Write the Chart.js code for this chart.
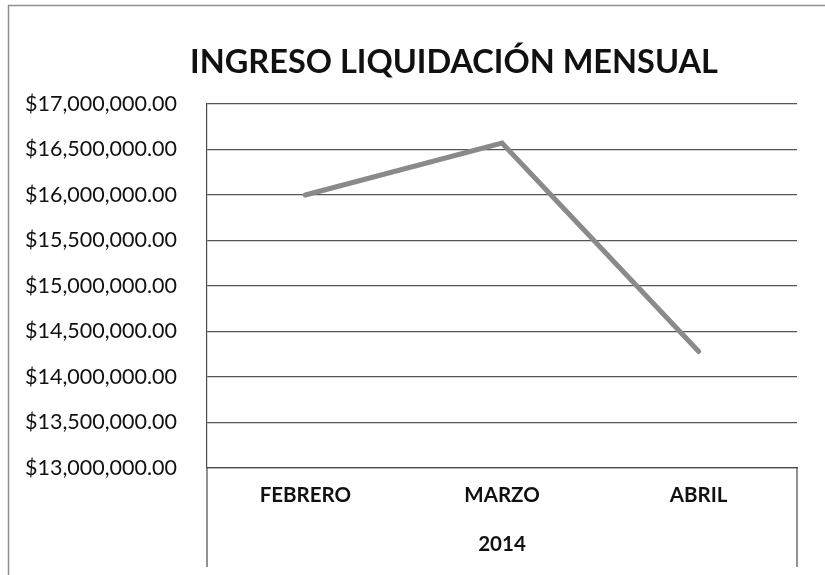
<!DOCTYPE html>
<html>
<head>
<meta charset="utf-8">
<script src="https://cdn.jsdelivr.net/npm/chart.js@4/dist/chart.umd.min.js"></script>
<style>
  html, body { margin: 0; padding: 0; background: #fff; overflow: hidden; }
  #wrap { width: 825px; height: 575px; overflow: hidden; position: relative; }
  #wrap canvas { position: absolute; left: 0; top: 0; }
</style>
</head>
<body>
<div id="wrap"><canvas id="c" width="900" height="575"></canvas></div>
<script>
const categories = ['FEBRERO', 'MARZO', 'ABRIL'];
const ingresos = [16000000, 16570000, 14280000];
const chartTitle = 'INGRESO LIQUIDACIÓN MENSUAL';
const xTitle = '2014';
const yMin = 13000000, yMax = 17000000, yStep = 500000;

const FONT = 'Lato, "Open Sans", "Liberation Sans", sans-serif';

const fmt = v => '$' + Number(v).toLocaleString('en-US', {minimumFractionDigits: 2, maximumFractionDigits: 2});

const decor = {
  id: 'decor',
  beforeDraw(chart) {
    const {ctx} = chart;
    ctx.save();
    ctx.fillStyle = '#fff';
    ctx.fillRect(0, 0, chart.width, chart.height);
    ctx.strokeStyle = '#8f8f8f';
    ctx.lineWidth = 1.5;
    ctx.beginPath();
    ctx.moveTo(8.5, chart.height);
    ctx.lineTo(8.5, 5.5);
    ctx.lineTo(chart.width, 5.5);
    ctx.stroke();
    ctx.restore();
  },
  afterDraw(chart) {
    const {ctx, chartArea} = chart;
    ctx.save();
    ctx.strokeStyle = '#4a4a4a';
    ctx.lineWidth = 1.2;
    ctx.beginPath();
    ctx.moveTo(chartArea.left, chartArea.bottom);
    ctx.lineTo(chartArea.left, chart.height - 8);
    ctx.moveTo(chartArea.right, chartArea.bottom);
    ctx.lineTo(chartArea.right, chart.height - 8);
    ctx.stroke();
    ctx.restore();
  }
};

new Chart(document.getElementById('c'), {
  type: 'line',
  data: {
    labels: categories,
    datasets: [{
      data: ingresos,
      borderColor: '#8a8a8a',
      borderWidth: 5,
      pointRadius: 0,
      borderCapStyle: 'round',
      borderJoinStyle: 'miter',
      tension: 0,
      fill: false
    }]
  },
  options: {
    responsive: false,
    animation: false,
    devicePixelRatio: 1,
    layout: { padding: { left: 8, right: 0, top: 0, bottom: 0 } },
    plugins: {
      legend: { display: false },
      tooltip: { enabled: false },
      title: {
        display: true,
        text: chartTitle,
        color: '#111',
        font: { family: FONT, size: 32.5, weight: 'bold' },
        padding: { top: 43, bottom: 22 }
      }
    },
    scales: {
      x: {
        offset: true,
        grid: { display: false, drawTicks: false },
        border: { display: true, color: '#4a4a4a', width: 1.2 },
        ticks: { color: '#111', font: { family: FONT, size: 20.5, weight: 'bold' }, padding: 15 },
        title: { display: true, text: xTitle, color: '#111', font: { family: FONT, size: 20.5, weight: 'bold' }, padding: { top: 0, bottom: 18 } },
        afterFit(scale) { scale.height = 107; }
      },
      y: {
        min: yMin, max: yMax,
        grid: { color: '#555', lineWidth: 1.2, drawTicks: false },
        border: { display: true, color: '#4a4a4a', width: 1.2 },
        ticks: { stepSize: yStep, color: '#111', font: { family: FONT, size: 21.5 }, padding: 30, callback: v => fmt(v) },
        afterFit(scale) { scale.width = 199; }
      },
      yr: {
        position: 'right',
        display: true,
        grid: { display: false, drawTicks: false },
        border: { display: false },
        ticks: { display: false },
        afterFit(scale) { scale.width = 103; }
      }
    }
  },
  plugins: [decor]
});
</script>
</body>
</html>
